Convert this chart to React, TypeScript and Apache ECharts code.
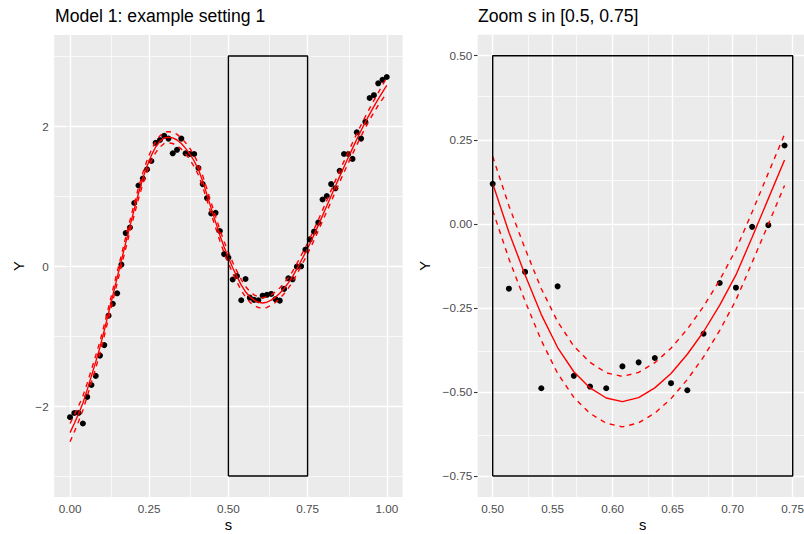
import React, { useEffect, useRef } from "react";
import * as echarts from "echarts";

// ---- data ----
const sValues = [
  0.0, 0.0135, 0.027, 0.0405, 0.0541, 0.0676, 0.0811, 0.0946, 0.1081, 0.1216,
  0.1351, 0.1486, 0.1622, 0.1757, 0.1892, 0.2027, 0.2162, 0.2297, 0.2432, 0.2568,
  0.2703, 0.2838, 0.2973, 0.3108, 0.3243, 0.3378, 0.3514, 0.3649, 0.3784, 0.3919,
  0.4054, 0.4189, 0.4324, 0.4459, 0.4595, 0.473, 0.4865, 0.5, 0.5135, 0.527,
  0.5405, 0.5541, 0.5676, 0.5811, 0.5946, 0.6081, 0.6216, 0.6351, 0.6486, 0.6622,
  0.6757, 0.6892, 0.7027, 0.7162, 0.7297, 0.7432, 0.7568, 0.7703, 0.7838, 0.7973,
  0.8108, 0.8243, 0.8378, 0.8514, 0.8649, 0.8784, 0.8919, 0.9054, 0.9189, 0.9324,
  0.9459, 0.9595, 0.973, 0.9865, 1.0,
];

const yObserved = [
  -2.16, -2.1, -2.1, -2.25, -1.87, -1.7, -1.57, -1.28, -1.13, -0.71,
  -0.54, -0.39, 0.02, 0.47, 0.55, 0.9, 1.15, 1.25, 1.38, 1.5,
  1.76, 1.8, 1.86, 1.82, 1.61, 1.66, 1.82, 1.61, 1.6, 1.6,
  1.4, 1.17, 0.97, 0.75, 0.76, 0.5, 0.17, 0.119, -0.193, -0.143,
  -0.489, -0.186, -0.452, -0.484, -0.489, -0.424, -0.412, -0.399, -0.474, -0.495,
  -0.327, -0.176, -0.19, -0.009, -0.004, 0.233, 0.38, 0.49, 0.62, 0.95,
  1.0, 1.17, 1.11, 1.36, 1.6, 1.6, 1.53, 1.91, 1.82, 2.06,
  2.4, 2.44, 2.61, 2.66, 2.7,
];

const yFit = [
  -2.38, -2.25, -2.11, -1.96, -1.77, -1.57, -1.37, -1.16, -0.92, -0.67,
  -0.42, -0.17, 0.08, 0.33, 0.57, 0.81, 1.04, 1.25, 1.43, 1.58,
  1.7, 1.78, 1.83, 1.84, 1.83, 1.8, 1.75, 1.68, 1.6, 1.5,
  1.38, 1.21, 1.02, 0.82, 0.63, 0.44, 0.27, 0.12, -0.025, -0.152,
  -0.27, -0.368, -0.44, -0.488, -0.518, -0.529, -0.517, -0.488, -0.445, -0.388,
  -0.321, -0.242, -0.152, -0.04, 0.075, 0.19, 0.315, 0.445, 0.58, 0.72,
  0.86, 1.0, 1.14, 1.28, 1.415, 1.55, 1.68, 1.81, 1.935, 2.055,
  2.17, 2.28, 2.385, 2.485, 2.58,
];

const yUpper = [
  -2.25, -2.13, -2.0, -1.86, -1.675, -1.48, -1.28, -1.075, -0.84, -0.59,
  -0.34, -0.09, 0.16, 0.41, 0.65, 0.89, 1.12, 1.33, 1.51, 1.66,
  1.78, 1.86, 1.91, 1.92, 1.91, 1.88, 1.83, 1.76, 1.68, 1.58,
  1.46, 1.29, 1.1, 0.9, 0.71, 0.52, 0.35, 0.2, 0.054, -0.074,
  -0.193, -0.291, -0.364, -0.412, -0.443, -0.454, -0.442, -0.413, -0.37, -0.313,
  -0.246, -0.167, -0.077, 0.035, 0.151, 0.266, 0.392, 0.523, 0.658, 0.798,
  0.94, 1.08, 1.22, 1.36, 1.495, 1.63, 1.76, 1.89, 2.015, 2.135,
  2.252, 2.365, 2.475, 2.585, 2.69,
];

const yLower = [
  -2.51, -2.37, -2.22, -2.06, -1.865, -1.66, -1.46, -1.245, -1.0, -0.75,
  -0.5, -0.25, 0.0, 0.25, 0.49, 0.73, 0.96, 1.17, 1.35, 1.5,
  1.62, 1.7, 1.75, 1.76, 1.75, 1.72, 1.67, 1.6, 1.52, 1.42,
  1.3, 1.13, 0.94, 0.74, 0.55, 0.36, 0.19, 0.04, -0.104, -0.23,
  -0.347, -0.445, -0.516, -0.564, -0.593, -0.604, -0.592, -0.563, -0.52, -0.463,
  -0.396, -0.317, -0.227, -0.115, -0.001, 0.114, 0.238, 0.367, 0.502, 0.642,
  0.78, 0.92, 1.06, 1.2, 1.335, 1.47, 1.6, 1.73, 1.855, 1.975,
  2.088, 2.195, 2.295, 2.385, 2.47,
];

// axes / ticks
const leftXRange = [-0.05, 1.05];
const leftYRange = [-3.3, 3.3];
const leftXTicks = [0, 0.25, 0.5, 0.75, 1];
const leftXMinor = [0.125, 0.375, 0.625, 0.875];
const leftYTicks = [-2, 0, 2];
const leftYMinor = [-3, -1, 1, 3];

const rightXRange = [0.4875, 0.7625];
const rightYRange = [-0.8125, 0.5625];
const rightXTicks = [0.5, 0.55, 0.6, 0.65, 0.7, 0.75];
const rightXMinor = [0.525, 0.575, 0.625, 0.675, 0.725];
const rightYTicks = [-0.75, -0.5, -0.25, 0, 0.25, 0.5];
const rightYMinor = [-0.625, -0.375, -0.125, 0.125, 0.375];

// zoom box
const zoomBoxS = [0.5, 0.75];
const leftBoxY = [-3, 3];
const rightBoxY = [-0.75, 0.5];

const titles = ["Model 1: example setting 1", "Zoom s in [0.5, 0.75]"];

const FONT = "'Liberation Sans', Arial, Helvetica, sans-serif";

const minus = (t: string) => t.replace("-", "\u2212");

function makeAxis(
  gridIndex: number,
  range: number[],
  ticks: number[],
  fmt: (v: number) => string,
  name: string,
  nameGap: number
) {
  return {
    type: "value",
    gridIndex,
    min: range[0],
    max: range[1],
    name,
    nameLocation: "middle",
    nameGap,
    nameMoveOverlap: false,
    nameTextStyle: { color: "#000000", fontSize: 14.7, fontFamily: FONT },
    axisLine: { show: false },
    axisTick: {
      show: true,
      length: 3.7,
      customValues: ticks,
      lineStyle: { color: "#333333", width: 1.1 },
    },
    axisLabel: {
      show: true,
      customValues: ticks,
      formatter: fmt,
      color: "#4D4D4D",
      fontSize: 11.7,
      fontFamily: FONT,
      margin: 5.5,
    },
    splitLine: { show: false },
    minorSplitLine: { show: false },
  };
}

function gridLines(xMajor: number[], xMinor: number[], yMajor: number[], yMinor: number[]) {
  const major = { color: "#FFFFFF", width: 1.4, type: "solid" };
  const minor = { color: "#FFFFFF", width: 0.7, type: "solid" };
  return {
    silent: true,
    z: 1,
    animation: false,
    symbol: ["none", "none"],
    label: { show: false },
    emphasis: { disabled: true },
    data: [
      ...xMinor.map((v) => ({ xAxis: v, lineStyle: minor })),
      ...yMinor.map((v) => ({ yAxis: v, lineStyle: minor })),
      ...xMajor.map((v) => ({ xAxis: v, lineStyle: major })),
      ...yMajor.map((v) => ({ yAxis: v, lineStyle: major })),
    ],
  };
}

const pairs = (idx: number[], ys: number[]) => idx.map((i) => [sValues[i], ys[i]]);

const boxData = (ys: number[]) => [
  [zoomBoxS[0], ys[0]],
  [zoomBoxS[1], ys[0]],
  [zoomBoxS[1], ys[1]],
  [zoomBoxS[0], ys[1]],
  [zoomBoxS[0], ys[0]],
];

export default function App() {
  const ref = useRef<HTMLDivElement>(null);

  useEffect(() => {
    if (!ref.current) return;
    const chart = echarts.init(ref.current, undefined, { renderer: "svg" });

    const allIdx = sValues.map((_, i) => i);
    const zoomIdx = allIdx.filter((i) => sValues[i] >= zoomBoxS[0] && sValues[i] <= zoomBoxS[1]);

    const panelSeries = (g: number, idx: number[], boxYs: number[], gl: any) => [
      {
        type: "scatter",
        xAxisIndex: g,
        yAxisIndex: g,
        data: pairs(idx, yObserved),
        symbol: "circle",
        symbolSize: 6,
        itemStyle: { color: "#000000", opacity: 1 },
        z: 3,
        silent: true,
        markLine: gl,
      },
      {
        type: "line",
        xAxisIndex: g,
        yAxisIndex: g,
        data: pairs(idx, yFit),
        showSymbol: false,
        symbol: "none",
        lineStyle: { color: "#FF0000", width: 1.4 },
        z: 4,
        silent: true,
      },
      {
        type: "line",
        xAxisIndex: g,
        yAxisIndex: g,
        data: pairs(idx, yUpper),
        showSymbol: false,
        symbol: "none",
        lineStyle: { color: "#FF0000", width: 1.4, type: [5, 5] },
        z: 4,
        silent: true,
      },
      {
        type: "line",
        xAxisIndex: g,
        yAxisIndex: g,
        data: pairs(idx, yLower),
        showSymbol: false,
        symbol: "none",
        lineStyle: { color: "#FF0000", width: 1.4, type: [5, 5] },
        z: 4,
        silent: true,
      },
      {
        type: "line",
        xAxisIndex: g,
        yAxisIndex: g,
        data: boxData(boxYs),
        showSymbol: false,
        symbol: "none",
        lineStyle: { color: "#000000", width: 1.4 },
        z: 5,
        silent: true,
      },
    ];

    chart.setOption({
      animation: false,
      backgroundColor: "#FFFFFF",
      textStyle: { fontFamily: FONT },
      title: [
        {
          text: titles[0],
          left: 55,
          top: 7,
          padding: 0,
          textStyle: { fontSize: 17.6, fontWeight: "normal", color: "#000000", fontFamily: FONT },
        },
        {
          text: titles[1],
          left: 478,
          top: 7,
          padding: 0,
          textStyle: { fontSize: 17.6, fontWeight: "normal", color: "#000000", fontFamily: FONT },
        },
      ],
      grid: [
        {
          left: 54.2,
          top: 35,
          width: 348.4,
          height: 462,
          show: true,
          backgroundColor: "#EBEBEB",
          borderWidth: 0,
          containLabel: false,
          outerBoundsMode: "none",
        },
        {
          left: 477.7,
          top: 34.7,
          width: 330,
          height: 462.3,
          show: true,
          backgroundColor: "#EBEBEB",
          borderWidth: 0,
          containLabel: false,
          outerBoundsMode: "none",
        },
      ],
      xAxis: [
        makeAxis(0, leftXRange, leftXTicks, (v: number) => v.toFixed(2), "s", 20),
        makeAxis(1, rightXRange, rightXTicks, (v: number) => v.toFixed(2), "s", 20),
      ],
      yAxis: [
        makeAxis(0, leftYRange, leftYTicks, (v: number) => minus(String(v)), "Y", 28),
        makeAxis(1, rightYRange, rightYTicks, (v: number) => minus(v.toFixed(2)), "Y", 45.5),
      ],
      series: [
        ...panelSeries(0, allIdx, leftBoxY, gridLines(leftXTicks, leftXMinor, leftYTicks, leftYMinor)),
        ...panelSeries(1, zoomIdx, rightBoxY, gridLines(rightXTicks, rightXMinor, rightYTicks, rightYMinor)),
      ],
    });

    return () => chart.dispose();
  }, []);

  return (
    <div
      ref={ref}
      style={{ position: "fixed", left: 0, top: 0, width: 804, height: 534, background: "#FFFFFF" }}
    />
  );
}
